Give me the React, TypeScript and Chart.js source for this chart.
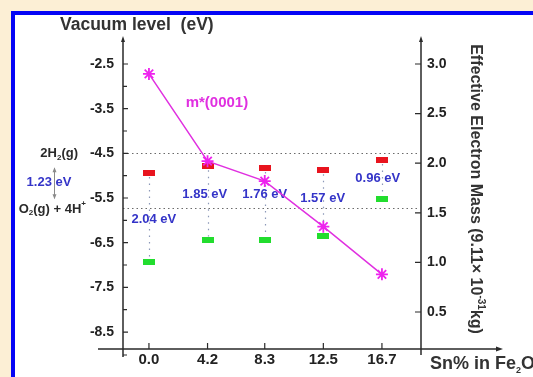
import React, { useEffect, useRef } from 'react';
import { Chart, registerables } from 'chart.js';

Chart.register(...registerables);

// ---- data ----
const snLabels = ['0.0', '4.2', '8.3', '12.5', '16.7'];
const snValues = [0, 4.2, 8.3, 12.5, 16.7];
const cbmEnergy = [-4.94, -4.79, -4.83, -4.88, -4.65];
const vbmEnergy = [-6.94, -6.45, -6.44, -6.36, -5.53];
const effectiveMass = [2.9, 2.02, 1.82, 1.36, 0.88];
const gapLabels = ['2.04 eV', '1.85 eV', '1.76 eV', '1.57 eV', '0.96 eV'];
const gapLabelSn = [0.35, 4.0, 8.3, 12.45, 16.4];
const gapLabelEnergy = [-5.97, -5.41, -5.43, -5.5, -5.07];
const energyTicks = [-2.5, -3.5, -4.5, -5.5, -6.5, -7.5, -8.5];
const energyMinorTicks = [-3, -4, -5, -6, -7, -8];
const massTicks = [3.0, 2.5, 2.0, 1.5, 1.0, 0.5];
const h2Level = -4.5;
const o2Level = -5.73;

const FONT = '"Liberation Sans", Arial, sans-serif';
const AXIS = '#2a2a2a';
const BLUE_TXT = '#3434c8';
const MAGENTA = '#e030e0';

type Part = { t: string; size: number; dy?: number };

function richWidth(ctx: CanvasRenderingContext2D, parts: Part[]) {
  let w = 0;
  for (const p of parts) {
    ctx.font = `bold ${p.size}px ${FONT}`;
    w += ctx.measureText(p.t).width;
  }
  return w;
}

function drawRich(ctx: CanvasRenderingContext2D, parts: Part[], x: number, y: number, align: 'left' | 'right' | 'center') {
  const w = richWidth(ctx, parts);
  let cx = align === 'left' ? x : align === 'right' ? x - w : x - w / 2;
  ctx.textAlign = 'left';
  ctx.textBaseline = 'middle';
  for (const p of parts) {
    ctx.font = `bold ${p.size}px ${FONT}`;
    ctx.fillText(p.t, cx, y + (p.dy || 0));
    cx += ctx.measureText(p.t).width;
  }
}

const decor = {
  id: 'decor',
  beforeDatasetsDraw(chart: any) {
    const { ctx, chartArea: a, scales } = chart;
    const x = scales.x, y = scales.y, y1 = scales.y1;
    ctx.save();
    // reference levels
    ctx.strokeStyle = '#6a6a6a';
    ctx.lineWidth = 1;
    ctx.setLineDash([1.5, 3]);
    for (const lv of [h2Level, o2Level]) {
      const py = Math.round(y.getPixelForValue(lv)) + 0.5;
      ctx.beginPath();
      ctx.moveTo(a.left, py);
      ctx.lineTo(a.right - 4, py);
      ctx.stroke();
    }
    // band gap connectors
    ctx.strokeStyle = '#8c98b8';
    ctx.lineWidth = 1.2;
    ctx.setLineDash([1.5, 5]);
    snValues.forEach((s, i) => {
      const px = Math.round(x.getPixelForValue(s)) + 0.5;
      ctx.beginPath();
      ctx.moveTo(px, y.getPixelForValue(cbmEnergy[i]) + 4);
      ctx.lineTo(px, y.getPixelForValue(vbmEnergy[i]) - 4);
      ctx.stroke();
    });
    ctx.setLineDash([]);
    // gap labels
    ctx.fillStyle = BLUE_TXT;
    gapLabels.forEach((t, i) => {
      drawRich(ctx, [{ t, size: 13 }], x.getPixelForValue(gapLabelSn[i]), y.getPixelForValue(gapLabelEnergy[i]), 'center');
    });
    // m* label
    ctx.fillStyle = MAGENTA;
    drawRich(ctx, [{ t: 'm*(0001)', size: 15 }], x.getPixelForValue(4.87), y1.getPixelForValue(2.607), 'center');
    ctx.restore();
  },
  afterDraw(chart: any) {
    const { ctx, chartArea: a, scales } = chart;
    const x = scales.x, y = scales.y, y1 = scales.y1;
    ctx.save();
    ctx.strokeStyle = AXIS;
    ctx.fillStyle = AXIS;
    ctx.lineWidth = 1.5;
    const L = a.left, R = a.right, B = a.bottom, T = a.top;
    // axes lines
    ctx.beginPath();
    ctx.moveTo(L, T - 2); ctx.lineTo(L, B + 8);
    ctx.moveTo(R, T - 2); ctx.lineTo(R, B + 6);
    ctx.moveTo(L - 25, B); ctx.lineTo(R + 78, B);
    ctx.stroke();
    // arrow heads
    const arrowUp = (px: number, py: number) => {
      ctx.beginPath(); ctx.moveTo(px, py - 4); ctx.lineTo(px - 2, py + 2); ctx.lineTo(px + 2, py + 2); ctx.closePath(); ctx.fill();
    };
    arrowUp(L, T - 1);
    arrowUp(R, T - 1);
    ctx.beginPath(); ctx.moveTo(R + 82, B); ctx.lineTo(R + 75, B - 2.5); ctx.lineTo(R + 75, B + 2.5); ctx.closePath(); ctx.fill();
    // ticks
    ctx.lineWidth = 1.2;
    ctx.beginPath();
    for (const v of energyTicks) { const py = y.getPixelForValue(v); ctx.moveTo(L, py); ctx.lineTo(L + 5, py); }
    for (const v of energyMinorTicks) { const py = y.getPixelForValue(v); ctx.moveTo(L, py); ctx.lineTo(L + 4, py); }
    for (const v of massTicks) { const py = y1.getPixelForValue(v); ctx.moveTo(R, py); ctx.lineTo(R - 6, py); }
    for (const v of snValues) { const px = x.getPixelForValue(v); ctx.moveTo(px, B); ctx.lineTo(px, B - 6); }
    ctx.moveTo(L, B + 6); ctx.lineTo(L + 4, B + 6);
    ctx.stroke();

    // title
    ctx.fillStyle = '#333';
    drawRich(ctx, [{ t: 'Vacuum level  (eV)', size: 17.5 }], 60, 25, 'left');

    // x title
    ctx.fillStyle = '#333';
    drawRich(ctx, [
      { t: 'Sn% in Fe', size: 18 },
      { t: '2', size: 9, dy: 7 },
      { t: 'O', size: 18 },
      { t: '3', size: 9, dy: 7 },
    ], 430, 364, 'left');

    // right title (rotated)
    ctx.save();
    ctx.translate(475, 189);
    ctx.rotate(Math.PI / 2);
    ctx.fillStyle = '#333';
    drawRich(ctx, [
      { t: 'Effective Electron Mass (9.11\u00d7 10', size: 16 },
      { t: '-31', size: 10, dy: -6 },
      { t: 'kg)', size: 16 },
    ], 0, 0, 'center');
    ctx.restore();

    // left annotations
    const ph2 = y.getPixelForValue(h2Level);
    const po2 = y.getPixelForValue(o2Level);
    ctx.fillStyle = '#2a2a2a';
    drawRich(ctx, [
      { t: '2H', size: 13 },
      { t: '2', size: 8, dy: 4 },
      { t: '(g)', size: 13 },
    ], 78, ph2, 'right');
    drawRich(ctx, [
      { t: 'O', size: 13 },
      { t: '2', size: 8, dy: 4 },
      { t: '(g) + 4H', size: 13 },
      { t: '+', size: 8, dy: -5 },
    ], 86, po2 + 1, 'right');
    ctx.fillStyle = BLUE_TXT;
    drawRich(ctx, [{ t: '1.23 eV', size: 13 }], 49, (ph2 + po2) / 2 + 2, 'center');
    // double arrow
    ctx.strokeStyle = '#8a8a8a';
    ctx.fillStyle = '#8a8a8a';
    ctx.lineWidth = 1;
    const ax = 54.5, ay1 = ph2 + 15, ay2 = po2 - 10;
    ctx.beginPath(); ctx.moveTo(ax, ay1); ctx.lineTo(ax, ay2); ctx.stroke();
    ctx.beginPath(); ctx.moveTo(ax, ay1 - 1); ctx.lineTo(ax - 2, ay1 + 4); ctx.lineTo(ax + 2, ay1 + 4); ctx.closePath(); ctx.fill();
    ctx.beginPath(); ctx.moveTo(ax, ay2 + 1); ctx.lineTo(ax - 2, ay2 - 4); ctx.lineTo(ax + 2, ay2 - 4); ctx.closePath(); ctx.fill();
    ctx.restore();
  },
};

export default function App() {
  const ref = useRef<HTMLCanvasElement>(null);
  useEffect(() => {
    const mk = (c: string) => {
      const cv = document.createElement('canvas');
      cv.width = 12; cv.height = 6;
      const g = cv.getContext('2d')!;
      g.fillStyle = c;
      g.fillRect(0, 0, 12, 6);
      return cv;
    };
    const redMark = mk('#e8141e');
    const greenMark = mk('#22dd2e');
    const tickFont = { family: FONT, size: 14, weight: 'bold' as const };
    const chart = new Chart(ref.current!, {
      type: 'scatter',
      data: {
        datasets: [
          {
            label: 'CBM',
            data: snValues.map((s, i) => ({ x: s, y: cbmEnergy[i] })),
            yAxisID: 'y',
            pointStyle: redMark as any,
            pointRadius: 6,
            order: 3,
          },
          {
            label: 'VBM',
            data: snValues.map((s, i) => ({ x: s, y: vbmEnergy[i] })),
            yAxisID: 'y',
            pointStyle: greenMark as any,
            pointRadius: 6,
            order: 2,
          },
          {
            label: 'm*(0001)',
            data: snValues.map((s, i) => ({ x: s, y: effectiveMass[i] })),
            yAxisID: 'y1',
            showLine: true,
            borderColor: MAGENTA,
            borderWidth: 1.5,
            pointStyle: 'star',
            pointRadius: 6,
            pointBorderWidth: 1.8,
            pointBorderColor: '#ee22ee',
            pointBackgroundColor: '#ee22ee',
            order: 1,
          },
        ],
      },
      options: {
        responsive: false,
        animation: false,
        devicePixelRatio: 1,
        layout: { padding: { top: 41, left: 0, right: 0, bottom: 0 } },
        plugins: { legend: { display: false }, tooltip: { enabled: false }, title: { display: false } },
        scales: {
          x: {
            type: 'linear',
            position: 'bottom',
            min: -1.86,
            max: 19.5,
            afterBuildTicks: (s: any) => { s.ticks = snValues.map((v) => ({ value: v })); },
            afterFit: (s: any) => { s.height = 28; },
            ticks: {
              autoSkip: false,
              maxRotation: 0,
              padding: 2,
              color: '#222',
              font: { family: FONT, size: 15, weight: 'bold' },
              callback: (_v: any, i: number) => snLabels[i],
            },
            grid: { display: false, drawTicks: false },
            border: { display: false },
          },
          y: {
            type: 'linear',
            position: 'left',
            min: -8.88,
            max: -1.985,
            afterBuildTicks: (s: any) => { s.ticks = energyTicks.map((v) => ({ value: v })); },
            afterFit: (s: any) => { s.width = 123; },
            ticks: {
              autoSkip: false,
              padding: 9,
              color: '#222',
              font: tickFont,
              callback: (v: any) => Number(v).toFixed(1),
            },
            grid: { display: false, drawTicks: false },
            border: { display: false },
          },
          y1: {
            type: 'linear',
            position: 'right',
            min: 0.127,
            max: 3.232,
            afterBuildTicks: (s: any) => { s.ticks = massTicks.map((v) => ({ value: v })); },
            afterFit: (s: any) => { s.width = 112; },
            ticks: {
              autoSkip: false,
              padding: 6,
              color: '#222',
              font: tickFont,
              callback: (v: any) => Number(v).toFixed(1),
            },
            grid: { display: false, drawTicks: false },
            border: { display: false },
          },
        },
      },
      plugins: [decor as any],
    });
    return () => chart.destroy();
  }, []);
  return (
    <div style={{ position: 'fixed', left: 0, top: 0, width: 533, height: 377, background: '#fcefd5', overflow: 'hidden' }}>
      <div style={{ position: 'absolute', left: 11, top: 11, width: 600, height: 500, background: '#ffffff', borderLeft: '4px solid #0505f5', borderTop: '4px solid #0505f5' }} />
      <canvas ref={ref} width={533} height={377} style={{ position: 'absolute', left: 0, top: 0, width: 533, height: 377 }} />
    </div>
  );
}
